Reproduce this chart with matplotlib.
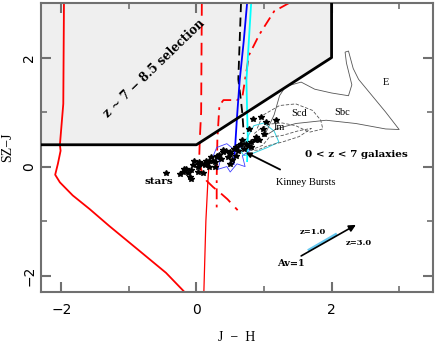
import matplotlib.pyplot as plt
from matplotlib.patches import Polygon

# selection box (J-H, SZ-J)
sel_x = [-2.3, 0.0, 2.0, 2.0, -2.3]
sel_y = [0.4, 0.4, 2.0, 3.0, 3.0]

# red solid track
red1_x = [-1.96, -1.97, -2.02, -2.01, -2.05, -2.09, -2.02, -1.83, -1.58, -1.29, -0.84, -0.45, -0.17]
red1_y = [3.0, 1.15, 0.40, 0.29, 0.05, -0.15, -0.29, -0.53, -0.78, -1.09, -1.55, -1.95, -2.31]

# thin red track
red2_x = [0.11, 0.14, 0.17, 0.19]
red2_y = [-2.31, -1.0, -0.26, 0.10]

# red dashed track
red3_x = [0.08, 0.07, 0.05, 0.04, 0.08, 0.15, 0.25, 0.35, 0.46, 0.61]
red3_y = [3.0, 1.0, 0.5, 0.1, -0.1, -0.26, -0.38, -0.48, -0.6, -0.8]

# red dash-dot track
red4_x = [1.37, 1.15, 0.93, 0.78, 0.72, 0.68, 0.60, 0.40, 0.34, 0.31, 0.30, 0.30]
red4_y = [3.0, 2.85, 2.42, 2.05, 1.6, 1.28, 1.22, 1.22, 1.12, 0.5, -0.2, -0.75]

# blue track
blue_x = [0.75, 0.70, 0.64, 0.60, 0.57, 0.55]
blue_y = [3.0, 2.3, 1.58, 0.9, 0.3, 0.05]
blue_loop_x = [0.57, 0.45, 0.30, 0.25, 0.35, 0.32, 0.45, 0.50, 0.60, 0.72, 0.68, 0.80, 0.65, 0.57]
blue_loop_y = [0.30, 0.42, 0.35, 0.20, 0.10, -0.05, 0.0, -0.10, 0.05, 0.0, 0.20, 0.30, 0.35, 0.30]

# cyan track
cyan_x = [0.81, 0.74, 0.75, 0.76, 0.75]
cyan_y = [3.0, 1.58, 1.03, 0.54, 0.10]
cyan_loop_x = [0.65, 0.85, 1.00, 1.15, 1.22, 1.05, 0.85, 0.70, 0.65]
cyan_loop_y = [0.30, 0.75, 0.80, 0.65, 0.45, 0.35, 0.25, 0.20, 0.30]

# black dashed track
black_x = [0.66, 0.64, 0.62, 0.66, 0.68, 0.70]
black_y = [3.0, 2.3, 1.6, 1.2, 0.97, 0.6]

# galaxy tracks
E_x = [1.0, 1.15, 1.23, 1.32, 1.55, 1.75, 2.0, 2.25, 2.30, 2.22, 2.20, 2.25, 2.32, 2.40, 2.60, 2.80, 3.0, 2.8, 2.36, 1.92, 1.47, 1.18, 1.0]
E_y = [0.55, 0.95, 1.30, 1.47, 1.55, 1.42, 1.35, 1.30, 1.50, 1.90, 2.10, 2.12, 1.80, 1.60, 1.30, 1.00, 0.68, 0.69, 0.79, 0.85, 0.79, 0.69, 0.55]
Scd_x = [0.90, 0.98, 1.23, 1.47, 1.72, 1.84, 1.87, 1.67, 1.47, 1.27, 1.08, 0.95, 0.85]
Scd_y = [0.70, 0.94, 1.12, 1.15, 1.03, 0.85, 0.69, 0.63, 0.75, 0.80, 0.78, 0.70, 0.60]
Im_x = [0.80, 0.98, 1.08, 1.27, 1.52, 1.70, 1.52, 1.27, 1.05, 0.90, 0.80]
Im_y = [0.30, 0.39, 0.54, 0.57, 0.66, 0.70, 0.55, 0.45, 0.38, 0.30, 0.30]

# stars
stars_x = [-0.24, -0.15, -0.08, -0.10, -0.05, 0.02, 0.04, 0.12, 0.14, 0.22, 0.27, 0.31, 0.36, 0.44,
           0.49, 0.56, 0.64, 0.73, 0.81, 0.86, 0.02, 0.19, -0.03, -0.20, -0.08, 0.39, 0.59, 0.68,
           0.04, 0.19, 0.31, 0.49, 0.59, 0.66, 0.49, -0.45, 0.28, 0.10, 0.52, 0.40,
           0.83, 0.96, 1.03, 0.78, 0.98, 1.00, 0.88, 0.93, 1.18, 0.81,
           -0.12, 0.08, 0.24, 0.33, 0.46, 0.61, 0.70, 0.76, -0.18, 0.16]
stars_y = [-0.13, -0.04, -0.07, -0.20, 0.02, -0.01, 0.08, 0.02, 0.11, 0.17, 0.08, 0.20, 0.14, 0.29,
           0.23, 0.33, 0.39, 0.42, 0.36, 0.48, -0.10, -0.01, 0.11, -0.10, -0.23, 0.26, 0.20, 0.48,
           0.05, 0.11, 0.17, 0.26, 0.36, 0.42, 0.05, -0.12, 0.0, -0.12, 0.12, 0.30,
           0.88, 0.91, 0.82, 0.69, 0.69, 0.60, 0.54, 0.48, 0.85, 0.45,
           -0.12, 0.04, 0.10, 0.22, 0.18, 0.28, 0.32, 0.38, -0.05, 0.06]

fig = plt.figure(figsize=(4.36, 3.43), dpi=100)
ax = fig.add_axes([0.094, 0.149, 0.899, 0.842])

ax.add_patch(Polygon(list(zip(sel_x, sel_y)), closed=False, facecolor='#efefef',
                     edgecolor='none', zorder=0))
ax.plot(sel_x[:4], sel_y[:4], color='black', lw=2, zorder=5)

ax.plot(red1_x, red1_y, color='red', lw=1.3)
ax.plot(red2_x, red2_y, color='red', lw=0.9)
ax.plot(red3_x, red3_y, color='red', lw=1.3, ls=(0, (7, 4)))
ax.plot(red4_x, red4_y, color='red', lw=1.3, ls=(0, (6, 3, 1.5, 3)))
ax.plot(black_x, black_y, color='black', lw=1.3, ls=(0, (5, 3)))
ax.plot(blue_x, blue_y, color='blue', lw=1.3)
ax.plot(blue_loop_x, blue_loop_y, color='#4040ff', lw=0.6)
ax.plot(cyan_x, cyan_y, color='cyan', lw=1.3)
ax.plot(cyan_loop_x, cyan_loop_y, color='#30d0e0', lw=0.7)

ax.plot(E_x, E_y, color='#555555', lw=0.6)
ax.plot(Scd_x, Scd_y, color='#555555', lw=0.6, ls=(0, (4, 2)))
ax.plot(Im_x, Im_y, color='#555555', lw=0.6, ls=(0, (4, 2)))

ax.plot(stars_x, stars_y, ls='none', marker='*', color='black', ms=4, zorder=6)

serif = 'DejaVu Serif'
times = 'Liberation Serif'
ax.text(-0.62, 1.80, 'z ~ 7 − 8.5 selection', rotation=44, fontsize=8.5, fontweight='bold',
        family=serif, ha='center', va='center')
ax.text(2.36, 0.22, '0 < z < 7 galaxies', fontsize=7.5, fontweight='bold', family=serif,
        ha='center', va='center')
ax.text(-0.55, -0.27, 'stars', fontsize=7.5, fontweight='bold', family=serif, ha='center', va='center')
ax.text(2.80, 1.55, 'E', fontsize=7.5, family=times, ha='center', va='center')
ax.text(2.15, 1.0, 'Sbc', fontsize=7.5, family=times, ha='center', va='center')
ax.text(1.52, 0.97, 'Scd', fontsize=7.5, family=times, ha='center', va='center')
ax.text(1.23, 0.71, 'Im', fontsize=7.5, family=times, ha='center', va='center')
ax.annotate('Kinney Bursts', xy=(0.73, 0.26), xytext=(1.62, -0.29), fontsize=7.5, family=times,
            ha='center', va='center',
            arrowprops=dict(arrowstyle='-|>', color='black', lw=1.3, shrinkA=9, shrinkB=0))

ax.annotate('', xy=(2.36, -1.07), xytext=(1.55, -1.64),
            arrowprops=dict(arrowstyle='-|>', color='black', lw=1.2, shrinkA=0, shrinkB=0))
ax.plot([1.67, 2.06], [-1.53, -1.25], color='#66c8f0', lw=2.2, zorder=1)
ax.text(1.73, -1.21, 'z=1.0', fontsize=6, fontweight='bold', family=serif, ha='center', va='center')
ax.text(2.40, -1.40, 'z=3.0', fontsize=6, fontweight='bold', family=serif, ha='center', va='center')
ax.text(1.40, -1.78, 'Av=1', fontsize=7, fontweight='bold', family=serif, ha='center', va='center')

ax.set_xlim(-2.3, 3.5)
ax.set_ylim(-2.3, 3.0)
ax.set_xticks([-2, 0, 2])
ax.set_yticks([-2, 0, 2])
ax.set_xticklabels(['−2', '0', '2'])
ax.set_yticklabels(['−2', '0', '2'], rotation=90, va='center')
ax.set_xticks([-1, 1, 3], minor=True)
ax.set_yticks([-1, 1], minor=True)
ax.tick_params(which='both', direction='in', top=True, right=True, color='#707070', labelsize=10)
ax.tick_params(which='major', length=7, width=1.5)
ax.tick_params(which='minor', length=4, width=1.2)
ax.tick_params(axis='x', pad=8)
for s in ax.spines.values():
    s.set_color('#707070')
    s.set_linewidth(1.5)
ax.set_xlabel('J  −  H', family=times, fontsize=10, labelpad=10)
ax.set_ylabel('SZ−J', family=times, fontsize=10, labelpad=6)

fig.savefig('out.png', dpi=100)
